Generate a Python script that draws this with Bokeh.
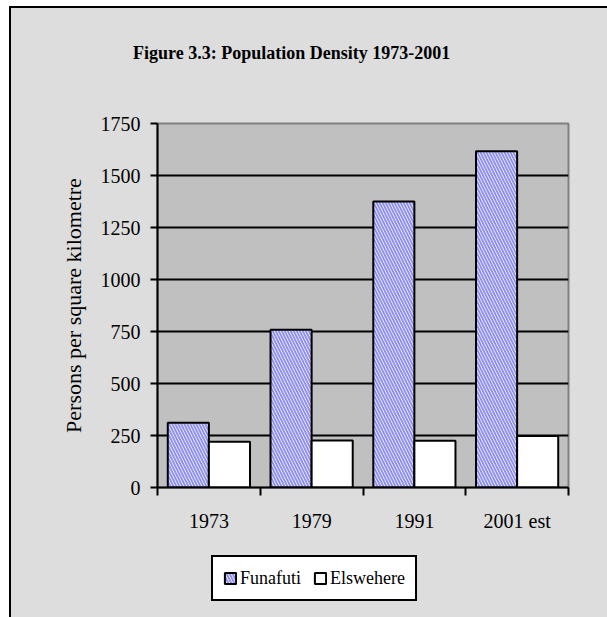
from bokeh.plotting import figure
from bokeh.layouts import column
from bokeh.models import FixedTicker, Legend, LegendItem, Div
from bokeh.embed import file_html
from bokeh.resources import INLINE

# Population density (persons per km²)
years = ["1973", "1979", "1991", "2001 est"]
funafuti = [311, 758, 1375, 1617]
elsewhere = [220, 226, 225, 248]
y_ticks = [0, 250, 500, 750, 1000, 1250, 1500, 1750]

TITLE = "Figure 3.3: Population Density 1973-2001"
FONT = "Liberation Serif"
BG = "#DDDDDD"
W = 596

centers = [i + 0.5 for i in range(len(years))]
bounds = list(range(len(years) + 1))
bar_w = 0.4

funafuti_style = dict(fill_color="white", hatch_pattern="\\", hatch_color="#9090F0",
                      hatch_scale=6, hatch_weight=2, line_color="black", line_width=2)
elsewhere_style = dict(fill_color="white", line_color="black", line_width=2)

# --- title ---
head = Div(text=('<span style="position:relative; left:122px; top:33px; '
                 f'white-space:nowrap;">{TITLE}</span>'),
           width=W, height=92, margin=0,
           styles={"font-family": FONT, "font-size": "18px", "font-weight": "bold",
                   "color": "black"})

# --- chart ---
p = figure(width=W, height=438, output_backend="svg", toolbar_location=None,
           x_range=(0, len(years)), y_range=(0, 1750),
           min_border_left=146, min_border_right=39,
           min_border_top=23, min_border_bottom=51, margin=0)
p.border_fill_color = BG
p.background_fill_color = "#C0C0C0"
p.outline_line_color = "#808080"
p.outline_line_width = 2

p.vbar(x=[c - bar_w / 2 for c in centers], top=funafuti, width=bar_w, **funafuti_style)
p.vbar(x=[c + bar_w / 2 for c in centers], top=elsewhere, width=bar_w, **elsewhere_style)

p.xgrid.visible = False
p.ygrid.ticker = FixedTicker(ticks=y_ticks[1:-1])
p.ygrid.grid_line_color = "black"
p.ygrid.grid_line_width = 2

ya = p.yaxis[0]
ya.ticker = FixedTicker(ticks=y_ticks)
ya.axis_line_width = 2
ya.major_tick_line_width = 2
ya.major_tick_out = 7
ya.major_tick_in = 0
ya.minor_tick_line_color = None
ya.major_label_text_font = FONT
ya.major_label_text_font_size = "20px"
ya.major_label_text_color = "black"
ya.major_label_standoff = 10
ya.axis_label = "Persons per square kilometre"
ya.axis_label_text_font = FONT
ya.axis_label_text_font_size = "22px"
ya.axis_label_text_font_style = "normal"
ya.axis_label_text_color = "black"
ya.axis_label_standoff = 12

# x axis: labels at category centres, ticks at category boundaries
xa = p.xaxis[0]
xa.ticker = FixedTicker(ticks=centers, minor_ticks=bounds)
xa.major_label_overrides = {c: y for c, y in zip(centers, years)}
xa.axis_line_width = 2
xa.major_tick_out = 0
xa.major_tick_in = 0
xa.minor_tick_out = 8
xa.minor_tick_in = 0
xa.minor_tick_line_width = 2
xa.minor_tick_line_color = "black"
xa.major_label_text_font = FONT
xa.major_label_text_font_size = "20px"
xa.major_label_text_color = "black"
xa.major_label_standoff = 14

# --- legend strip: hidden copies of both series supply the legend keys ---
leg = figure(width=W, height=79, output_backend="svg", toolbar_location=None,
             x_axis_location=None, y_axis_location=None, min_border=0, margin=0,
             x_range=(0, len(years)), y_range=(0, 1750))
leg.grid.visible = False
leg.outline_line_color = None
leg.background_fill_alpha = 0
leg.border_fill_alpha = 0
r_f = leg.vbar(x=[c - bar_w / 2 for c in centers], top=funafuti, width=bar_w,
               visible=False, **funafuti_style)
r_e = leg.vbar(x=[c + bar_w / 2 for c in centers], top=elsewhere, width=bar_w,
               visible=False, **elsewhere_style)
legend = Legend(items=[LegendItem(label="Funafuti", renderers=[r_f], index=0),
                       LegendItem(label="Elswehere", renderers=[r_e], index=0)],
                orientation="horizontal", location=(54, 16))
legend.label_text_font = FONT
legend.label_text_font_size = "18px"
legend.label_text_color = "black"
legend.label_height = 22
legend.glyph_width = 14
legend.glyph_height = 14
legend.label_standoff = 3
legend.spacing = 12
legend.padding = 10
legend.margin = 0
legend.border_line_color = "black"
legend.border_line_alpha = 1
legend.border_line_width = 2
legend.background_fill_color = "white"
legend.background_fill_alpha = 1
leg.add_layout(legend, "center")

page = column(head, p, leg, spacing=0)
# grey sheet with a black rule on its top and left edges
page.styles = {"margin-left": "9px", "margin-top": "6px", "background-color": BG,
               "border-left": "2px solid black", "border-top": "2px solid black"}

open("out.html", "w").write(file_html(page, INLINE))
